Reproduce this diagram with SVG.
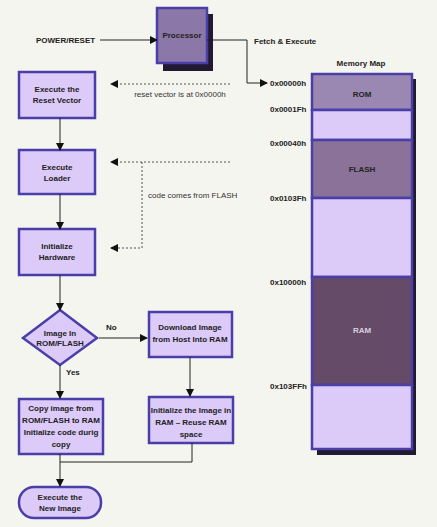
<svg xmlns="http://www.w3.org/2000/svg" width="437" height="527" viewBox="0 0 437 527">
<defs>
<marker id="ah" markerWidth="8" markerHeight="8" refX="7" refY="4" orient="auto" markerUnits="userSpaceOnUse">
<path d="M0,0 L8,4 L0,8 Z" fill="#111"/>
</marker>
</defs>
<style>
.box{fill:#dccaf8;stroke:#4a3fa8;stroke-width:2.5}
.t{font-family:"Liberation Sans",Arial,sans-serif;font-size:8px;font-weight:bold;fill:#222;text-anchor:middle}
.tl{font-family:"Liberation Sans",Arial,sans-serif;font-size:8px;font-weight:bold;fill:#222}
.tn{font-family:"Liberation Sans",Arial,sans-serif;font-size:8px;fill:#333}
.ln{fill:none;stroke:#222;stroke-width:1}
.dot{fill:none;stroke:#555;stroke-width:1;stroke-dasharray:2,2}
.sh{fill:#221a30}
</style>
<rect x="0" y="0" width="437" height="527" fill="#f5f5f0"/>

<g id="power-reset"><text class="tl" x="36" y="43">POWER/RESET</text></g>

<g id="processor">
<rect class="sh" x="163" y="14" width="50" height="57"/>
<rect x="157" y="8" width="50" height="55" fill="#8c78a8" stroke="#4a3fa8" stroke-width="2.5"/>
<text class="t" x="182" y="38">Processor</text>
</g>

<g id="fetch-label"><text class="tl" x="254" y="44">Fetch &amp; Execute</text></g>

<g id="memory-map">
<text class="t" x="361" y="66">Memory Map</text>
<rect class="sh" x="317" y="79" width="99" height="376"/>
<rect x="312" y="74" width="100" height="36" fill="#9a88b2" stroke="#4a3fa8" stroke-width="2.5"/>
<rect x="312" y="110" width="100" height="30" fill="#dccaf8" stroke="#4a3fa8" stroke-width="2.5"/>
<rect x="312" y="140" width="100" height="58" fill="#8a7298" stroke="#4a3fa8" stroke-width="2.5"/>
<rect x="312" y="198" width="100" height="79" fill="#dccaf8" stroke="#4a3fa8" stroke-width="2.5"/>
<rect x="312" y="277" width="100" height="108" fill="#654b68" stroke="#4a3fa8" stroke-width="2.5"/>
<rect x="312" y="385" width="100" height="64" fill="#dccaf8" stroke="#4a3fa8" stroke-width="2.5"/>
<text class="t" x="362" y="97">ROM</text>
<text class="t" x="362" y="172">FLASH</text>
<text class="t" x="362" y="333" fill="#ddd" style="fill:#d8d0e0">RAM</text>
<text class="tl" x="270" y="86">0x00000h</text>
<text class="tl" x="270" y="112">0x0001Fh</text>
<text class="tl" x="270" y="146">0x00040h</text>
<text class="tl" x="270" y="201">0x0103Fh</text>
<text class="tl" x="270" y="285">0x10000h</text>
<text class="tl" x="270" y="389">0x103FFh</text>
</g>

<g id="reset-vector">
<rect class="box" x="19" y="72" width="76" height="46"/>
<text class="t" x="57" y="92">Execute the</text>
<text class="t" x="57" y="103">Reset Vector</text>
</g>

<g id="exec-loader">
<rect class="box" x="19" y="150" width="76" height="44"/>
<text class="t" x="57" y="170">Execute</text>
<text class="t" x="57" y="181">Loader</text>
</g>

<g id="init-hw">
<rect class="box" x="19" y="229" width="76" height="46"/>
<text class="t" x="57" y="249">Initialize</text>
<text class="t" x="57" y="260">Hardware</text>
</g>

<g id="decision">
<polygon points="60,310 97,338 60,365 23,338" fill="#dccaf8" stroke="#4a3fa8" stroke-width="2.5"/>
<text class="t" x="60" y="336">Image In</text>
<text class="t" x="60" y="346">ROM/FLASH</text>
</g>

<g id="download">
<rect class="box" x="149" y="312" width="83" height="45"/>
<text class="t" x="190" y="330">Download Image</text>
<text class="t" x="190" y="342">from Host Into RAM</text>
</g>

<g id="copy-image">
<rect class="box" x="19" y="399" width="84" height="55"/>
<text class="t" x="61" y="411">Copy image from</text>
<text class="t" x="61" y="423">ROM/FLASH to RAM</text>
<text class="t" x="61" y="435">Initialize code durig</text>
<text class="t" x="61" y="447">copy</text>
</g>

<g id="init-image">
<rect class="box" x="149" y="397" width="84" height="46"/>
<text class="t" x="191" y="413">Initialize the Image in</text>
<text class="t" x="191" y="425">RAM – Reuse RAM</text>
<text class="t" x="191" y="437">space</text>
</g>

<g id="execute-new">
<rect class="box" x="19" y="487" width="82" height="31" rx="15" ry="15"/>
<text class="t" x="60" y="500">Execute the</text>
<text class="t" x="60" y="511">New Image</text>
</g>

<g id="connectors">
<line class="ln" x1="100" y1="40" x2="157" y2="40" marker-end="url(#ah)"/>
<polyline class="ln" points="207,40 247,40 247,83 267,83" marker-end="url(#ah)"/>
<line class="dot" x1="230" y1="84" x2="111" y2="84" marker-end="url(#ah)"/>
<text class="tn" x="180" y="97" text-anchor="middle">reset vector is at 0x0000h</text>
<line class="ln" x1="60" y1="118" x2="60" y2="150" marker-end="url(#ah)"/>
<line class="dot" x1="230" y1="162" x2="111" y2="162" marker-end="url(#ah)"/>
<polyline class="dot" points="142,162 142,248 111,248" marker-end="url(#ah)"/>
<text class="tn" x="148" y="198">code comes from FLASH</text>
<line class="ln" x1="60" y1="194" x2="60" y2="229" marker-end="url(#ah)"/>
<line class="ln" x1="60" y1="275" x2="60" y2="310" marker-end="url(#ah)"/>
<line class="ln" x1="99" y1="338" x2="147" y2="338" marker-end="url(#ah)"/>
<text class="tl" x="106" y="330">No</text>
<line class="ln" x1="60" y1="365" x2="60" y2="398" marker-end="url(#ah)"/>
<text class="tl" x="66" y="375">Yes</text>
<line class="ln" x1="190" y1="357" x2="190" y2="396" marker-end="url(#ah)"/>
<polyline class="ln" points="192,443 192,462 60,462"/>
<line class="ln" x1="60" y1="454" x2="60" y2="486" marker-end="url(#ah)"/>
</g>
</svg>
